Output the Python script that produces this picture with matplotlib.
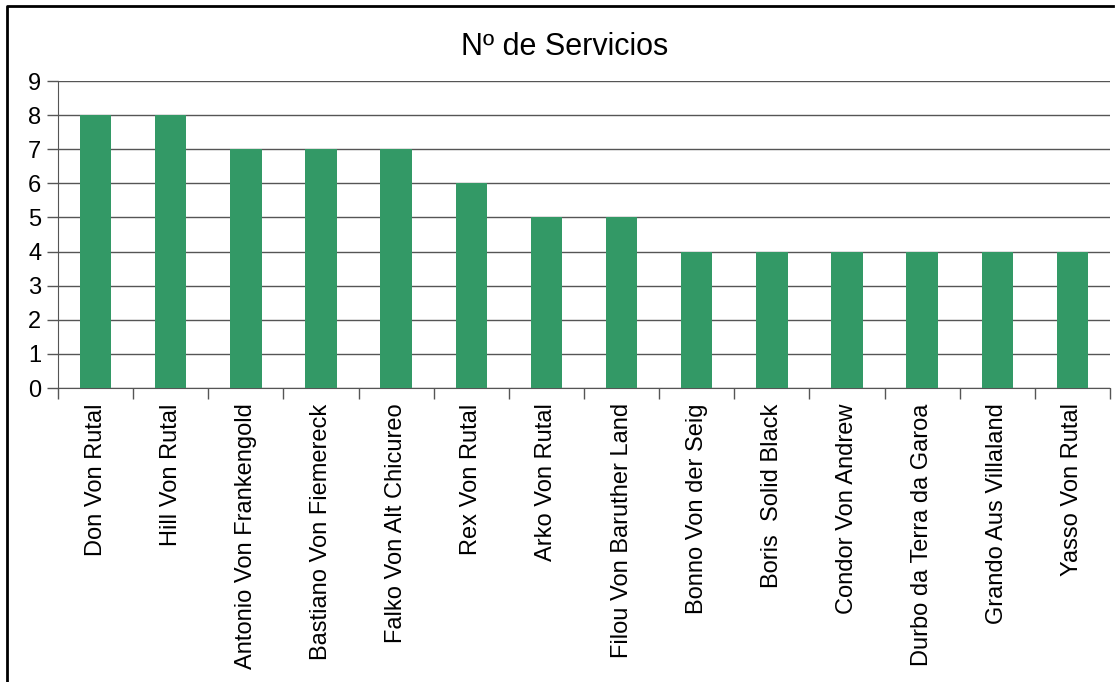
import numpy as np
import matplotlib.pyplot as plt
from matplotlib.lines import Line2D

# Data
names = ["Don Von Rutal", "Hill Von Rutal", "Antonio Von Frankengold",
         "Bastiano Von Fiemereck", "Falko Von Alt Chicureo", "Rex Von Rutal",
         "Arko Von Rutal", "Filou Von Baruther Land", "Bonno Von der Seig",
         "Boris  Solid Black", "Condor Von Andrew", "Durbo da Terra da Garoa",
         "Grando Aus Villaland", "Yasso Von Rutal"]
servicios = [8, 8, 7, 7, 7, 6, 5, 5, 4, 4, 4, 4, 4, 4]

plt.rcParams['font.family'] = ['Liberation Sans', 'DejaVu Sans']

fig = plt.figure(figsize=(11.19, 6.82), dpi=100)
ax = fig.add_axes([58/1119, 1 - 388/682, (1110 - 58)/1119, (388 - 81)/682])

x = np.arange(len(names))
ax.bar(x, servicios, width=0.42, color='#339966', zorder=3)

ax.set_xlim(-0.5, len(names) - 0.5)
ax.set_ylim(0, 9)
ax.set_yticks(range(10))
ax.yaxis.grid(True, color='#555555', linewidth=1.0, zorder=0)
ax.tick_params(axis='y', direction='out', length=8, width=1, color='#555555',
               labelsize=17, pad=4)

ax.set_xticks(x)
ax.set_xticklabels(names, rotation=90, fontsize=17)
ax.set_xticks(np.arange(-0.5, len(names)), minor=True)
ax.tick_params(axis='x', which='major', length=0, pad=11)
ax.tick_params(axis='x', which='minor', direction='out', length=8, width=1,
               color='#555555')

for s in ['top', 'right']:
    ax.spines[s].set_visible(False)
ax.spines['left'].set_color('#555555')
ax.spines['bottom'].set_color('#555555')

fig.text(565/1119, 1 - 47/682, "Nº de Servicios", ha='center', va='center',
         fontsize=22)

# chart border (left and top edges)
fig.add_artist(Line2D([7/1119, 7/1119, 1113/1119], [0, 1 - 6/682, 1 - 6/682],
                      transform=fig.transFigure, color='black', linewidth=2))

fig.savefig("out.png", dpi=100)
